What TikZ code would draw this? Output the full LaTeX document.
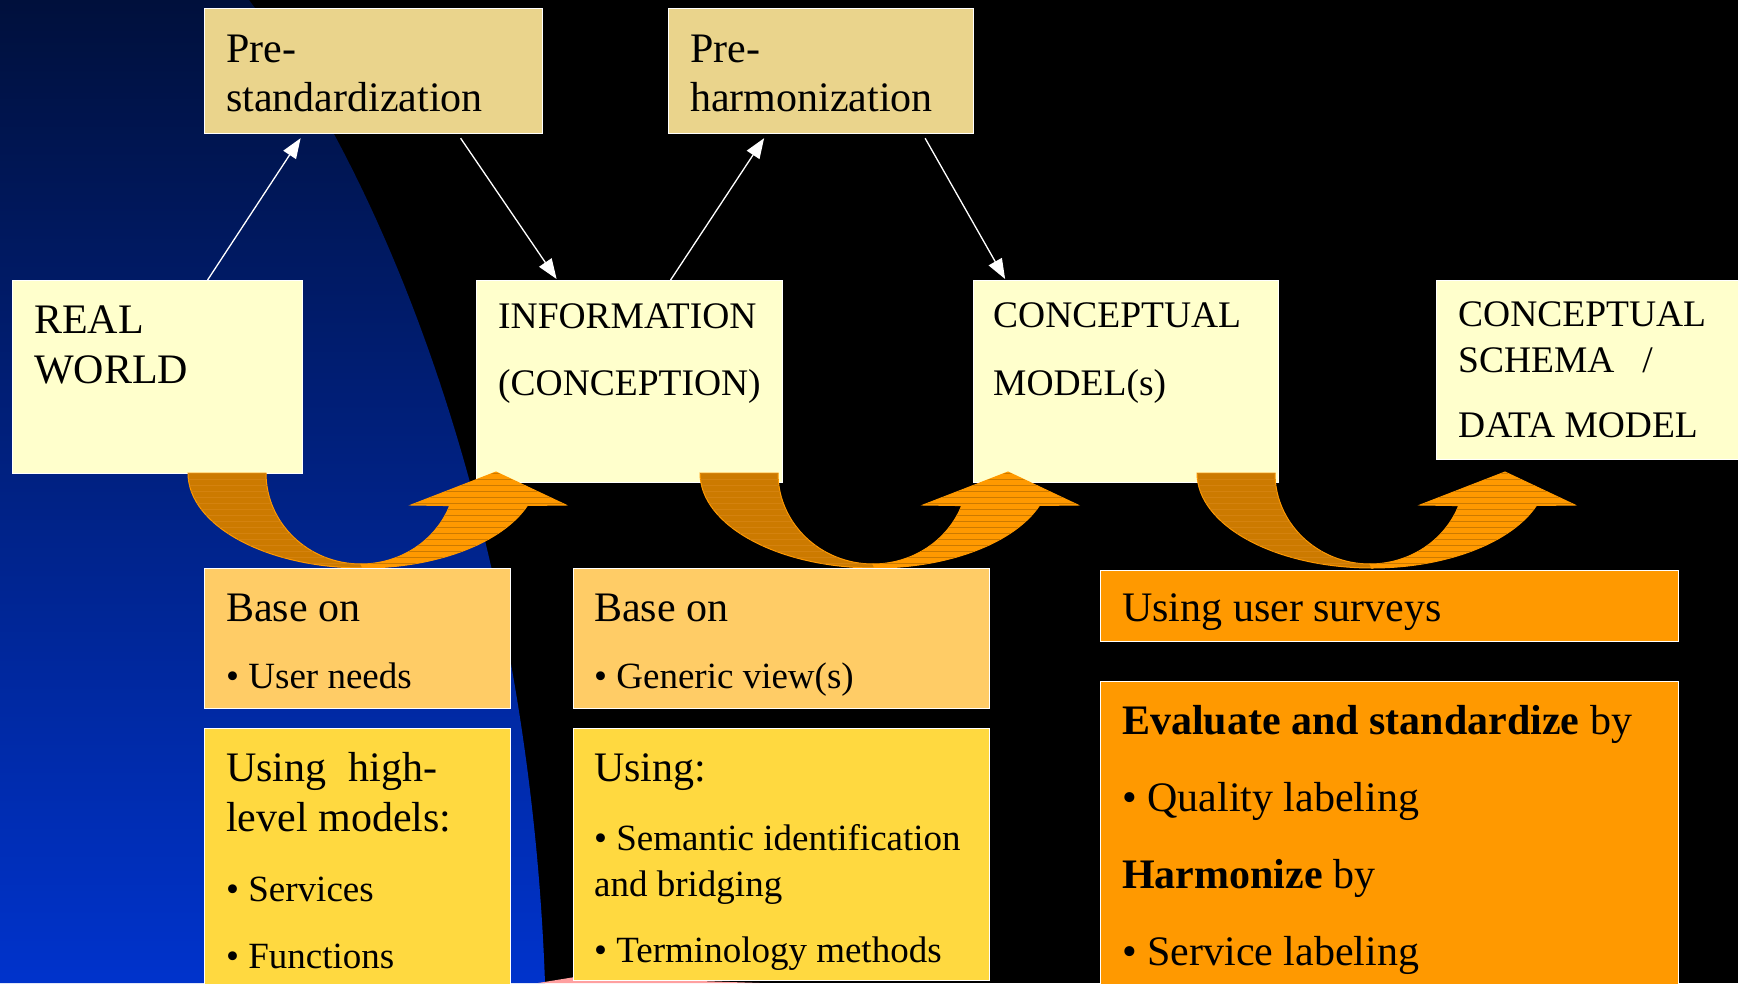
\documentclass[tikz,border=0pt]{standalone}
\usepackage{fontspec}
\setmainfont{Liberation Serif}
\usetikzlibrary{arrows.meta,patterns.meta}
\definecolor{navytop}{RGB}{0,16,60}
\definecolor{navybot}{RGB}{0,51,204}
\definecolor{paleyel}{RGB}{255,255,204}
\definecolor{prefill}{RGB}{234,212,140}
\definecolor{basefill}{RGB}{255,204,102}
\definecolor{usefill}{RGB}{255,217,64}
\definecolor{arrowor}{RGB}{255,153,0}
\definecolor{arrowdk}{RGB}{204,122,0}
\definecolor{tailline}{RGB}{212,130,14}
\definecolor{pinkish}{RGB}{255,160,160}

\begin{document}
\begin{tikzpicture}[x=1pt, y=-1pt,
  box/.style={draw=white, line width=1.2pt, anchor=north west, inner sep=0pt},
  lbl/.style={anchor=base west, align=left, inner sep=0pt},
  link/.style={draw=white, line width=1.3pt, -{Triangle[length=20pt, width=15pt]}},
  tail/.style={draw=arrowor, line width=1pt, fill=arrowdk,
    postaction={pattern={Lines[angle=0, distance=6pt, line width=0.6pt]}, pattern color=tailline}},
  head/.style={draw=arrowor, line width=1pt, fill=arrowor,
    postaction={pattern={Lines[angle=0, distance=6pt, line width=0.7pt]}, pattern color=arrowdk}},
]
  \useasboundingbox (0,0) rectangle (1738,983);
  \fill[black] (0,0) rectangle (1738,983);
  \shade[top color=navytop, bottom color=navybot] (0,0) -- (249,0)
    .. controls (400,200) and (530,560) .. (545,983) -- (0,983) -- cycle;

  % upper row
  \node[box, fill=prefill, minimum width=338, minimum height=125] (prestd) at (204,8) {};
  \node[box, fill=prefill, minimum width=305, minimum height=125] (preharm) at (668,8) {};
  \node[box, fill=paleyel, minimum width=290, minimum height=193] (realworld) at (12,280) {};
  \node[box, fill=paleyel, minimum width=306, minimum height=202] (info) at (476,280) {};
  \node[box, fill=paleyel, minimum width=305, minimum height=202] (concmodel) at (973,280) {};
  \node[box, fill=paleyel, minimum width=312, minimum height=179] (concschema) at (1436,280) {};

  % labels sit on the baseline of their last line
  \node[lbl, font=\fontsize{42}{49}\selectfont] (prestdtxt) at ([shift={(22,103)}]prestd.north west) {Pre-\\standardization};
  \node[lbl, font=\fontsize{42}{49}\selectfont] (preharmtxt) at ([shift={(22,103)}]preharm.north west) {Pre-\\harmonization};
  \node[lbl, font=\fontsize{42}{50}\selectfont] (realworldtxt) at ([shift={(22,103)}]realworld.north west) {REAL\\WORLD};
  \node[lbl, font=\fontsize{37.5}{67}\selectfont] (infotxt) at ([shift={(22,115)}]info.north west) {INFORMATION\\(CONCEPTION)};
  \node[lbl, font=\fontsize{37.5}{68}\selectfont] (concmodeltxt) at ([shift={(20,115)}]concmodel.north west) {CONCEPTUAL\\MODEL(s)};
  \node[lbl, font=\fontsize{37.5}{46}\selectfont] (concschematxt) at ([shift={(22,157)}]concschema.north west) {CONCEPTUAL\\SCHEMA\hspace{28pt}/\\[19pt]DATA MODEL};

  % thin links
  \draw[link] ([shift={(50,0)}]realworld.north) -- ([shift={(-73,4)}]prestd.south);
  \draw[link] ([shift={(87,4)}]prestd.south) -- ([shift={(-73,-1)}]info.north);
  \draw[link] ([shift={(41,0)}]info.north) -- ([shift={(-57,4)}]preharm.south);
  \draw[link] ([shift={(104,4)}]preharm.south) -- ([shift={(-121,-1)}]concmodel.north);

  % curved up arrows
  \foreach \s in {0,512,1009} {
    \begin{scope}[shift={(\s,0)}]
      \path[tail] (188,473) arc[start angle=180, end angle=90, x radius=175, y radius=95]
        -- (361,564) arc[start angle=90, end angle=180, x radius=95, y radius=91] -- cycle;
      \path[head] (363,568) arc[start angle=90, end angle=20, x radius=175, y radius=95]
        -- (566,505) -- (496,472) -- (411,505) -- (449.7,505.6)
        arc[start angle=21, end angle=90, x radius=95, y radius=91] -- cycle;
    \end{scope}
  }

  % lower boxes
  \fill[pinkish] (538,983) -- (575,977) -- (700,981) -- (760,983) -- cycle;
  \node[box, fill=basefill, minimum width=306, minimum height=140] (basea) at (204,568) {};
  \node[box, fill=basefill, minimum width=416, minimum height=140] (baseb) at (573,568) {};
  \node[box, fill=usefill, minimum width=306, minimum height=270] (usinga) at (204,728) {};
  \node[box, fill=usefill, minimum width=416, minimum height=252] (usingb) at (573,728) {};
  \node[box, fill=arrowor, minimum width=578, minimum height=71] (survey) at (1100,570) {};
  \node[box, fill=arrowor, minimum width=578, minimum height=320] (evaluate) at (1100,681) {};

  \node[lbl, font=\fontsize{42}{67}\selectfont] (baseatxt) at ([shift={(22,120)}]basea.north west)
    {Base on\\{\fontsize{37}{67}\selectfont • User needs}};
  \node[lbl, font=\fontsize{42}{67}\selectfont] (basebtxt) at ([shift={(21,120)}]baseb.north west)
    {Base on\\{\fontsize{37}{67}\selectfont • Generic view(s)}};
  \node[lbl, font=\fontsize{42}{50}\selectfont] (usingatxt) at ([shift={(22,240)}]usinga.north west)
    {Using\hspace{22pt}high-\\level models:\\[20pt]{\fontsize{37}{50}\selectfont • Services}\\[17pt]{\fontsize{37}{50}\selectfont • Functions}};
  \node[lbl, font=\fontsize{37}{46}\selectfont] (usingbtxt) at ([shift={(21,234)}]usingb.north west)
    {{\fontsize{42}{46}\selectfont Using:}\\[23pt]• Semantic identification\\and bridging\\[20pt]• Terminology methods};
  \node[lbl, font=\fontsize{42}{50}\selectfont] (surveytxt) at ([shift={(22,51)}]survey.north west) {Using user surveys};
  \node[lbl, font=\fontsize{42}{77}\selectfont] (evaluatetxt) at ([shift={(22,284)}]evaluate.north west)
    {\textbf{Evaluate and standardize} by\\• Quality labeling\\\textbf{Harmonize} by\\• Service labeling};
\end{tikzpicture}
\end{document}
